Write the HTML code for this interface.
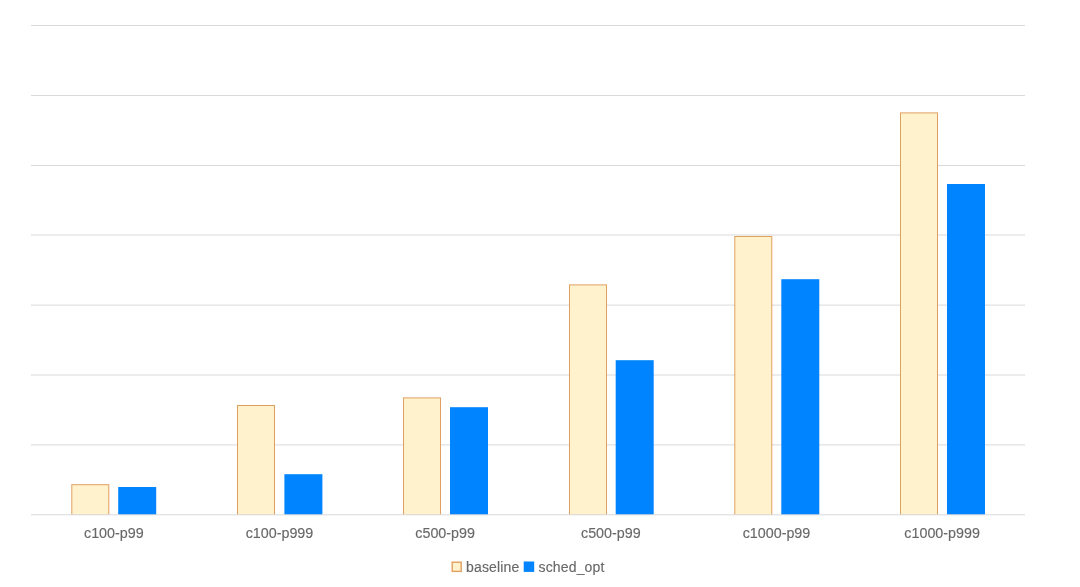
<!DOCTYPE html>
<html><head><meta charset="utf-8"><style>
html,body{margin:0;padding:0;background:#fff;width:1080px;height:587px;overflow:hidden}
svg{display:block;will-change:transform}
text{font-family:"Liberation Sans",sans-serif;fill:#686868;stroke:#686868;stroke-width:0.15px}
.lab{font-size:14.3px}
.leg{font-size:14px;letter-spacing:0.16px}
</style></head><body>
<svg width="1080" height="587" viewBox="0 0 1080 587">
<rect x="31" y="25" width="994" height="1" fill="#d9d9d9"/>
<rect x="31" y="95" width="994" height="1" fill="#d9d9d9"/>
<rect x="31" y="165" width="994" height="1" fill="#d9d9d9"/>
<rect x="31" y="234.5" width="994" height="1" fill="#d9d9d9"/>
<rect x="31" y="304.6" width="994" height="1" fill="#d9d9d9"/>
<rect x="31" y="374.5" width="994" height="1" fill="#d9d9d9"/>
<rect x="31" y="444.4" width="994" height="1" fill="#d9d9d9"/>
<rect x="71.3" y="484.2" width="38" height="30.60" fill="#e0a060"/>
<rect x="72.3" y="485.2" width="36" height="29.60" fill="#fff2cc"/>
<rect x="118.2" y="487" width="38" height="27.80" fill="#0084ff"/>
<rect x="237" y="405" width="38" height="109.80" fill="#e0a060"/>
<rect x="238" y="406" width="36" height="108.80" fill="#fff2cc"/>
<rect x="284.4" y="474.2" width="38" height="40.60" fill="#0084ff"/>
<rect x="403" y="397.4" width="38" height="117.40" fill="#e0a060"/>
<rect x="404" y="398.4" width="36" height="116.40" fill="#fff2cc"/>
<rect x="450" y="407.2" width="38" height="107.60" fill="#0084ff"/>
<rect x="569" y="284.4" width="38" height="230.40" fill="#e0a060"/>
<rect x="570" y="285.4" width="36" height="229.40" fill="#fff2cc"/>
<rect x="615.7" y="360.2" width="38" height="154.60" fill="#0084ff"/>
<rect x="734.3" y="236" width="38" height="278.80" fill="#e0a060"/>
<rect x="735.3" y="237" width="36" height="277.80" fill="#fff2cc"/>
<rect x="781.3" y="279.2" width="38" height="235.60" fill="#0084ff"/>
<rect x="900" y="112.4" width="38" height="402.40" fill="#e0a060"/>
<rect x="901" y="113.4" width="36" height="401.40" fill="#fff2cc"/>
<rect x="947" y="184" width="38" height="330.80" fill="#0084ff"/>
<rect x="31" y="514.3" width="994" height="1" fill="#d9d9d9"/>
<text class="lab" x="113.8" y="538" text-anchor="middle">c100-p99</text>
<text class="lab" x="279.5" y="538" text-anchor="middle">c100-p999</text>
<text class="lab" x="445.1" y="538" text-anchor="middle">c500-p99</text>
<text class="lab" x="610.8" y="538" text-anchor="middle">c500-p99</text>
<text class="lab" x="776.5" y="538" text-anchor="middle">c1000-p99</text>
<text class="lab" x="942.1" y="538" text-anchor="middle">c1000-p999</text>
<rect x="452.2" y="562.2" width="9" height="9.2" fill="#fff2cc" stroke="#e0a060" stroke-width="1.4"/>
<text class="leg" x="466" y="571.5">baseline</text>
<rect x="523.7" y="561.5" width="10.5" height="10.4" fill="#0084ff"/>
<text class="leg" x="538.5" y="571.5">sched_opt</text>
</svg>
</body></html>
